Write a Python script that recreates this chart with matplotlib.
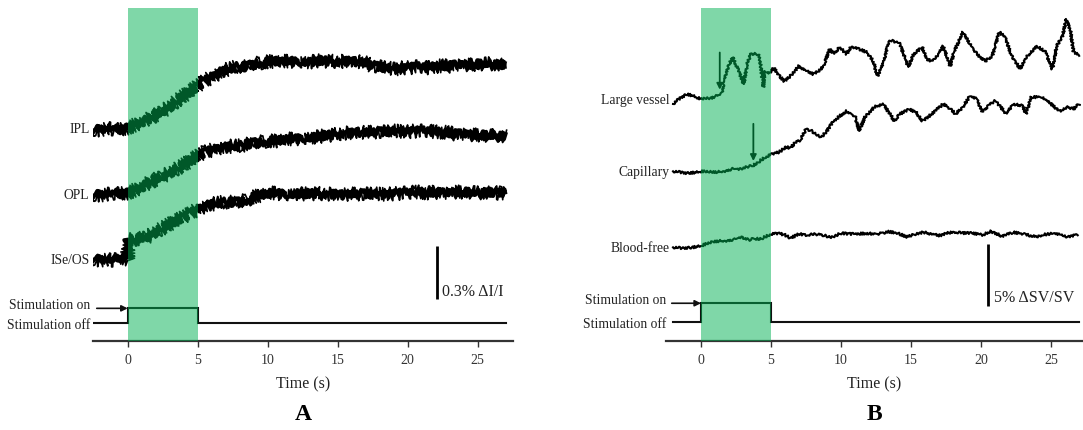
import numpy as np
import matplotlib
matplotlib.use("Agg")
import matplotlib.pyplot as plt

plt.rcParams['font.family'] = ['Liberation Serif', 'DejaVu Serif']

# ---------------- data: panel A (% dI/I, relative to pre-stimulus baseline) ----------------
tA = [-2.5, -2, -1.5, -1, -0.5, 0, 0.5, 1, 1.5, 2, 2.5, 3, 3.5, 4, 4.5, 5,
      5.5, 6, 6.5, 7, 7.5, 8, 8.5, 9, 9.5, 10, 10.5, 11, 11.5, 12, 12.5, 13,
      13.5, 14, 14.5, 15, 15.5, 16, 16.5, 17, 17.5, 18, 18.5, 19, 19.5, 20,
      20.5, 21, 21.5, 22, 22.5, 23, 23.5, 24, 24.5, 25, 25.5, 26, 26.5, 27]
ipl = [0.000, -0.006, 0.006, 0.000, -0.006, 0.006, 0.022, 0.039, 0.056, 0.079,
       0.101, 0.124, 0.157, 0.186, 0.214, 0.242, 0.270, 0.292, 0.315, 0.332,
       0.343, 0.354, 0.349, 0.366, 0.371, 0.377, 0.382, 0.377, 0.382, 0.377,
       0.382, 0.377, 0.382, 0.382, 0.382, 0.377, 0.382, 0.382, 0.377, 0.371,
       0.354, 0.349, 0.343, 0.337, 0.343, 0.343, 0.349, 0.349, 0.343, 0.354,
       0.354, 0.354, 0.360, 0.360, 0.360, 0.366, 0.366, 0.366, 0.366, 0.360]
opl = [0.000, -0.006, 0.000, 0.006, 0.000, 0.006, 0.022, 0.039, 0.062, 0.084,
       0.101, 0.118, 0.141, 0.163, 0.191, 0.214, 0.236, 0.247, 0.259, 0.264,
       0.270, 0.270, 0.281, 0.287, 0.292, 0.298, 0.298, 0.304, 0.309, 0.309,
       0.315, 0.321, 0.321, 0.326, 0.332, 0.337, 0.343, 0.343, 0.349, 0.343,
       0.349, 0.349, 0.349, 0.354, 0.354, 0.349, 0.354, 0.354, 0.354, 0.349,
       0.349, 0.343, 0.337, 0.337, 0.332, 0.332, 0.332, 0.326, 0.332, 0.326]
tA_os = [-2.5, -2, -1.5, -1, -0.5, 0, 0.02, 0.5, 1, 1.5, 2, 2.5, 3, 3.5, 4, 4.5, 5,
         5.5, 6, 6.5, 7, 7.5, 8, 8.5, 9, 9.5, 10, 10.5, 11, 11.5, 12, 12.5, 13,
         13.5, 14, 14.5, 15, 15.5, 16, 16.5, 17, 17.5, 18, 18.5, 19, 19.5, 20,
         20.5, 21, 21.5, 22, 22.5, 23, 23.5, 24, 24.5, 25, 25.5, 26, 26.5, 27]
iseos = [0.006, -0.006, 0.000, -0.006, 0.006, 0.000, 0.107, 0.112, 0.118, 0.129,
         0.152, 0.174, 0.197, 0.219, 0.236, 0.259, 0.281, 0.298, 0.309, 0.315,
         0.321, 0.321, 0.321, 0.332, 0.349, 0.360, 0.371, 0.371, 0.366, 0.366,
         0.371, 0.366, 0.366, 0.371, 0.366, 0.366, 0.366, 0.360, 0.366, 0.366,
         0.366, 0.366, 0.366, 0.366, 0.366, 0.371, 0.371, 0.377, 0.377, 0.371,
         0.377, 0.371, 0.371, 0.377, 0.377, 0.377, 0.371, 0.377, 0.377, 0.371,
         0.371]
labels_A = ['IPL', 'OPL', 'ISe/OS']

# ---------------- data: panel B (% dSV/SV, relative to baseline) ----------------
t_lv = [-2.0, -1.5, -1.0, -0.5, 0, 0.3, 0.7, 1.1, 1.34, 1.5, 1.8, 2.24, 2.7, 3.05,
        3.3, 3.55, 4.1, 4.2, 4.45, 4.55, 4.8, 5.2, 5.6, 5.95, 6.3, 6.7, 7.0, 7.5,
        8.0, 8.45, 8.8, 9.2, 9.5, 9.9, 10.4, 10.7, 11.3, 11.8, 12.3, 12.6, 13.0,
        13.4, 13.7, 14.2, 14.8, 15.2, 15.8, 16.1, 16.5, 16.9, 17.3, 17.8, 18.1,
        18.7, 19.2, 19.7, 20.3, 20.8, 21.3, 21.7, 22.2, 22.8, 23.3, 24.0, 24.6,
        25.1, 25.4, 25.8, 26.1, 26.4, 26.6, 27.0]
large_vessel = [-0.40, 0.08, 0.40, 0.24, 0.00, 0.08, 0.08, 0.24, 0.40, 0.56, 2.18,
                3.39, 2.26, 1.21, 2.82, 3.63, 3.63, 3.23, 0.97, 2.26, 2.02, 2.50,
                1.85, 1.45, 1.77, 2.26, 2.66, 2.26, 2.02, 2.26, 2.82, 4.03, 3.63,
                4.19, 3.63, 4.19, 4.03, 3.79, 3.06, 1.85, 2.82, 4.60, 4.68, 4.44,
                2.58, 3.63, 4.19, 3.23, 3.06, 3.47, 4.27, 2.66, 3.87, 5.40, 4.44,
                3.63, 3.06, 3.47, 5.40, 5.00, 3.47, 2.42, 3.47, 4.27, 3.79, 2.42,
                4.27, 5.00, 6.45, 5.40, 3.87, 3.47]
t_cap = [-2.0, -1.5, -1.0, -0.5, 0, 0.6, 1.2, 1.7, 2.26, 2.7, 3.2, 3.7, 4.1, 4.6,
         5.1, 5.6, 6.05, 6.4, 6.76, 7.1, 7.5, 7.9, 8.3, 8.6, 9.0, 9.3, 9.9, 10.4,
         10.7, 11.0, 11.3, 11.7, 12.4, 13.0, 13.5, 13.8, 14.2, 14.9, 15.4, 15.8,
         16.3, 17.3, 17.8, 18.2, 18.7, 19.2, 19.7, 20.1, 20.6, 21.0, 21.4, 21.8,
         22.3, 23.0, 23.2, 23.6, 24.3, 25.0, 25.6, 26.2, 26.6, 27.0]
capillary = [0.00, -0.06, -0.14, -0.10, 0.00, -0.02, -0.06, 0.02, 0.19, 0.15, 0.35,
             0.45, 0.75, 1.15, 1.40, 1.56, 1.96, 1.88, 2.36, 2.52, 3.41, 3.25,
             2.93, 2.77, 3.25, 3.81, 4.46, 4.86, 4.62, 4.46, 3.25, 4.38, 5.19,
             5.43, 4.62, 4.06, 4.62, 5.02, 4.70, 4.06, 4.46, 5.43, 5.02, 4.62,
             5.19, 6.07, 5.83, 4.78, 5.35, 5.67, 5.19, 4.62, 5.43, 5.27, 4.62,
             5.99, 5.99, 5.43, 4.86, 5.19, 5.02, 5.43]
t_bf = [-2.0, -1.3, -0.6, 0, 0.86, 1.8, 2.4, 2.9, 3.5, 3.8, 4.1, 4.4, 5.0, 5.6, 6.0,
        6.4, 7.0, 7.6, 8.2, 8.8, 9.3, 10.0, 11.0, 11.8, 12.6, 13.4, 14.0, 14.7,
        15.3, 15.9, 16.5, 17.0, 17.5, 18.0, 18.7, 19.4, 20.1, 20.7, 21.1, 21.5,
        22.3, 23.2, 23.9, 24.5, 25.2, 25.7, 26.2, 26.9]
blood_free = [0.00, -0.06, 0.00, 0.13, 0.48, 0.53, 0.63, 0.81, 0.61, 0.71, 0.67,
              0.75, 1.07, 1.13, 0.99, 0.75, 1.07, 0.99, 1.07, 0.95, 0.81, 1.13,
              1.07, 1.13, 1.07, 1.26, 1.15, 0.85, 1.07, 1.21, 1.07, 0.94, 1.11,
              1.26, 1.15, 1.15, 0.99, 1.29, 1.11, 0.89, 1.21, 1.03, 0.85, 1.03,
              1.13, 0.99, 0.85, 1.02]
labels_B = ['Large vessel', 'Capillary', 'Blood-free']
arrow_times_B = [1.34, 3.74]   # response onset markers (large vessel, capillary)

# stimulus protocol
stim_t = [0, 0, 5, 5]
stim_state = [0, 1, 1, 0]
stim_on_s, stim_off_s = 0, 5
xticks = [0, 5, 10, 15, 20, 25]

# ---------------- layout ----------------
W, H = 1083, 431
fig = plt.figure(figsize=(W / 100, H / 100), dpi=100)

def px_axes(x0, x1, ytop, ybot):
    return fig.add_axes([x0 / W, (H - ybot) / H, (x1 - x0) / W, (ybot - ytop) / H])

axA = px_axes(92.7, 513.4, 9, 341.7)
axB = px_axes(666.0, 1083.2, 9, 341.7)

GREEN = (0.0, 0.69, 0.32)
TXT = 9.8

def style_axis(ax, xlim, ylim):
    ax.set_xlim(*xlim)
    ax.set_ylim(*ylim)
    for s in ['left', 'right', 'top']:
        ax.spines[s].set_visible(False)
    ax.spines['bottom'].set_linewidth(1.6)
    ax.spines['bottom'].set_color('#333333')
    ax.set_yticks([])
    ax.set_xticks(xticks)
    ax.tick_params(axis='x', direction='out', length=4, width=1.0,
                   color='#333333', labelsize=10, pad=4.5, labelcolor='#333333')
    ax.set_xlabel('Time (s)', fontsize=11.5, labelpad=7, color='#222222')
    ax.axvspan(stim_on_s, stim_off_s, ymin=0, ymax=1, color=GREEN, alpha=0.5,
               lw=0, zorder=5)
    ax.set_facecolor('none')

def stim_trace(ax, t_start, t_end, off_y, on_y, label_x, arrow_x0):
    tt = [t_start] + stim_t + [t_end]
    ss = [0] + stim_state + [0]
    yy = [off_y + s * (on_y - off_y) for s in ss]
    ax.plot(tt, yy, color='#111111', lw=1.5, solid_joinstyle='miter', zorder=3)
    ax.annotate('', xy=(0, on_y), xytext=(arrow_x0, on_y),
                arrowprops=dict(arrowstyle='-|>', lw=1.2, color='#111111',
                                mutation_scale=9, shrinkA=0, shrinkB=0),
                annotation_clip=False, zorder=3)
    ax.text(label_x, on_y + 0.012 * (ax.get_ylim()[1]), 'Stimulation on', ha='right',
            va='center', fontsize=TXT, color='#222222', clip_on=False)
    ax.text(label_x, off_y - 0.004 * (ax.get_ylim()[1]), 'Stimulation off', ha='right',
            va='center', fontsize=TXT, color='#222222', clip_on=False)

# ---------------- panel A ----------------
scaleA = 177.8  # px per 1 % dI/I
style_axis(axA, (-2.5, 27.55), (0, 332.7 / scaleA))
offA = [1.191, 0.825, 0.459]
for (tt, vals, off, lab) in zip([tA, tA, tA_os], [ipl, opl, iseos], offA, labels_A):
    yv = np.array(vals) + off
    ln, = axA.plot(tt, yv, color='black', lw=2.6, zorder=2, solid_capstyle='butt')
    ln.set_sketch_params(scale=4.0, length=1.8, randomness=3)
    ln2, = axA.plot(tt, yv, color='black', lw=1.2, zorder=2)
    ln2.set_sketch_params(scale=7, length=2.5, randomness=4)
    axA.text(-2.72, off, lab, ha='right', va='center', fontsize=TXT, color='#222222',
             clip_on=False)
stim_trace(axA, -2.5, 27.0, 0.097, 0.182, -2.64, -2.21)
# scale bar 0.3 %
axA.plot([22.11, 22.11], [0.235, 0.235 + 0.3], color='black', lw=2.0, solid_capstyle='butt')
axA.text(22.42, 0.281, '0.3% ΔI/I', ha='left', va='center', fontsize=11.5, color='#222222')

# ---------------- panel B ----------------
scaleB = 12.4  # px per 1 % dSV/SV
style_axis(axB, (-2.5, 27.3), (0, 332.7 / scaleB))
offB = [19.49, 13.66, 7.53]
for (tt, vals, off, lab) in zip([t_lv, t_cap, t_bf], [large_vessel, capillary, blood_free],
                                offB, labels_B):
    yv = np.array(vals) + off
    ln, = axB.plot(tt, yv, color='black', lw=1.5, zorder=2)
    ln.set_sketch_params(scale=1.2, length=3, randomness=2)
    axB.text(-2.22, off, lab, ha='right', va='center', fontsize=TXT, color='#222222',
             clip_on=False)
# onset arrows
for ta, tt, vals, off in zip(arrow_times_B, [t_lv, t_cap], [large_vessel, capillary], offB[:2]):
    tip = np.interp(ta, tt, vals) + off + 0.35
    axB.annotate('', xy=(ta, tip), xytext=(ta, tip + 3.0),
                 arrowprops=dict(arrowstyle='-|>', lw=1.3, color='black',
                                 mutation_scale=9, shrinkA=0, shrinkB=0), zorder=3)
stim_trace(axB, -2.0, 27.0, 1.48, 3.02, -2.45, -2.09)
axB.plot([20.5, 20.5], [2.81, 2.81 + 5], color='black', lw=2.0, solid_capstyle='butt')
axB.text(20.9, 3.52, '5% ΔSV/SV', ha='left', va='center', fontsize=11.5, color='#222222')

# panel letters
fig.text((92.7 + 513.4) / 2 / W, 1 - 415 / H, 'A', ha='center', va='center',
         fontsize=17, fontweight='bold')
fig.text((666 + 1083) / 2 / W, 1 - 415 / H, 'B', ha='center', va='center',
         fontsize=17, fontweight='bold')

fig.savefig('out.png', dpi=100)
